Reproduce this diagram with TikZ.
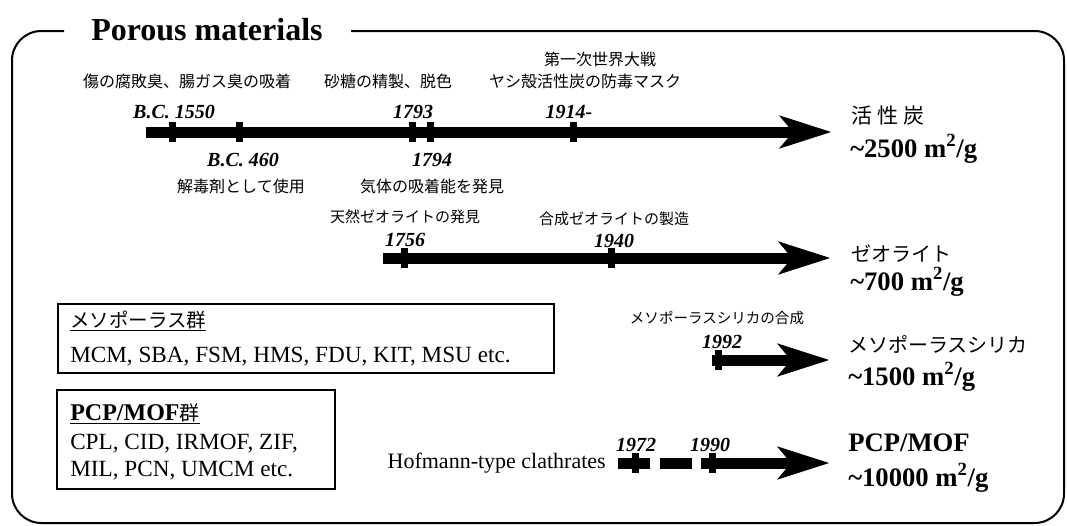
\documentclass[tikz,border=0pt]{standalone}
\usepackage{fontspec}
\setmainfont{Liberation Serif}
\newfontfamily\jp{Noto Sans CJK JP}
\usetikzlibrary{arrows.meta}
\newcommand\fs[1]{\fontsize{#1}{#1}\selectfont}
\begin{document}
\begin{tikzpicture}[x=0.75pt,y=-0.75pt,
  bar/.style={line width=8.25pt},
  tip/.style={-{Stealth[length=39pt,width=25pt,inset=10.5pt,line width=0.4pt]}},
  yr/.style={font=\fs{15pt}\bfseries\itshape, inner sep=0pt},
  jl/.style={font=\jp\fs{12pt}, inner sep=0pt},
  jz/.style={font=\jp\fs{11.25pt}, inner sep=0pt},
  jm/.style={font=\jp\fs{10.9pt}, inner sep=0pt},
  rj/.style={font=\jp\fs{15pt}, inner sep=0pt, anchor=base west},
  rn/.style={font=\fs{20pt}\bfseries, inner sep=0pt, anchor=base west},
  boxtxt/.style={font=\fs{17.4pt}, inner sep=0pt, anchor=base west},
  grp/.style={draw, line width=1.5pt},
  frame/.style={line width=1.5pt, rounded corners=22pt}]
\useasboundingbox (0,0) rectangle (1067,525);
\fill[white] (0,0) rectangle (1067,525);

% frame and title
\draw[frame] (64,31) -| (12,523) -| (1064,31) -- (351,31);
\node[font=\fs{24pt}\bfseries, anchor=base west, inner sep=0pt] (title) at (91,40) {Porous materials};

% ---- timeline 1: activated carbon
\coordinate (a1s) at (146,132);
\coordinate (a1e) at (831,132);
\draw[bar,tip] (a1s) -- (a1e);
\foreach \x in {172,239,412,430,573} \fill (\x-3.5,122) rectangle (\x+3.5,142);
\node[jl] (l1) at (187,81) {傷の腐敗臭、腸ガス臭の吸着};
\node[jl] (l2) at (388,81) {砂糖の精製、脱色};
\node[jl] (l3) at (600,59) {第一次世界大戦};
\node[jl] (l4) at (585,81) {ヤシ殻活性炭の防毒マスク};
\node[yr] (y1) at (174,112) {B.C. 1550};
\node[yr] (y2) at (413,112) {1793};
\node[yr] (y3) at (569,112) {1914-};
\node[yr] (y4) at (243,160) {B.C. 460};
\node[yr] (y5) at (432,160) {1794};
\node[jl] (l5) at (241,186) {解毒剤として使用};
\node[jl] (l6) at (432,186) {気体の吸着能を発見};
\node[font=\jp\fs{15.75pt}, inner sep=0pt, anchor=base west] (r1) at (851,123) {活\hspace{4pt}性\hspace{4pt}炭};
\node[rn] (n1) at (850,157) {\textasciitilde2500 m\textsuperscript{2}/g};

% ---- timeline 2: zeolite
\coordinate (a2s) at (383,258);
\coordinate (a2e) at (830,258);
\draw[bar,tip] (a2s) -- (a2e);
\foreach \x in {404,611} \fill (\x-3.5,248) rectangle (\x+3.5,268);
\node[jz] (z1) at (405,217) {天然ゼオライトの発見};
\node[yr] (y6) at (405,240) {1756};
\node[jz] (z2) at (614,219) {合成ゼオライトの製造};
\node[yr] (y7) at (614,241) {1940};
\node[rj] (r2) at (851,261) {ゼオライト};
\node[rn] (n2) at (850,290) {\textasciitilde700 m\textsuperscript{2}/g};

% ---- timeline 3: mesoporous silica
\coordinate (a3s) at (712,360);
\coordinate (a3e) at (829,360);
\draw[bar,tip] (a3s) -- (a3e);
\fill (718-3.5,350) rectangle (718+3.5,370);
\node[jm] (s1) at (717,318) {メソポーラスシリカの合成};
\node[yr] (y8) at (722,342) {1992};
\node[rj] (r3) at (848,352) {メソポーラスシリカ};
\node[rn] (n3) at (848,385) {\textasciitilde1500 m\textsuperscript{2}/g};

% ---- timeline 4: PCP/MOF
\coordinate (b1) at (618,463);
\coordinate (b2) at (650,463);
\coordinate (b3) at (660,463);
\coordinate (b4) at (692,463);
\coordinate (a4s) at (701,463);
\coordinate (a4e) at (829,463);
\draw[bar] (b1) -- (b2);
\draw[bar] (b3) -- (b4);
\draw[bar,tip] (a4s) -- (a4e);
\foreach \x in {635,712} \fill (\x-3.5,453) rectangle (\x+3.5,473);
\node[font=\fs{16.5pt}, inner sep=0pt, anchor=east] (hof) at (606,463) {Hofmann-type clathrates};
\node[yr] (y9) at (636,445) {1972};
\node[yr] (y10) at (710,445) {1990};
\node[rn] (r4) at (848,451) {PCP/MOF};
\node[rn] (n4) at (848,486) {\textasciitilde10000 m\textsuperscript{2}/g};

% ---- group boxes
\draw[grp] (58,304) rectangle (554,373);
\node[font=\jp\fs{14.6pt}, inner sep=0pt, anchor=base west] (m1) at (70,327) {\underline{メソポーラス群}};
\node[boxtxt] (m2) at (70,362) {MCM, SBA, FSM, HMS, FDU, KIT, MSU etc.};
\draw[grp] (57,390) rectangle (335,489);
\node[font=\fs{18pt}, inner sep=0pt, anchor=base west] (p1) at (70,420) {\underline{\textbf{PCP/MOF}{\jp\fs{15pt}群}}};
\node[boxtxt] (p2) at (70,449) {CPL, CID, IRMOF, ZIF,};
\node[boxtxt] (p3) at (70,476) {MIL, PCN, UMCM etc.};
\end{tikzpicture}
\end{document}
